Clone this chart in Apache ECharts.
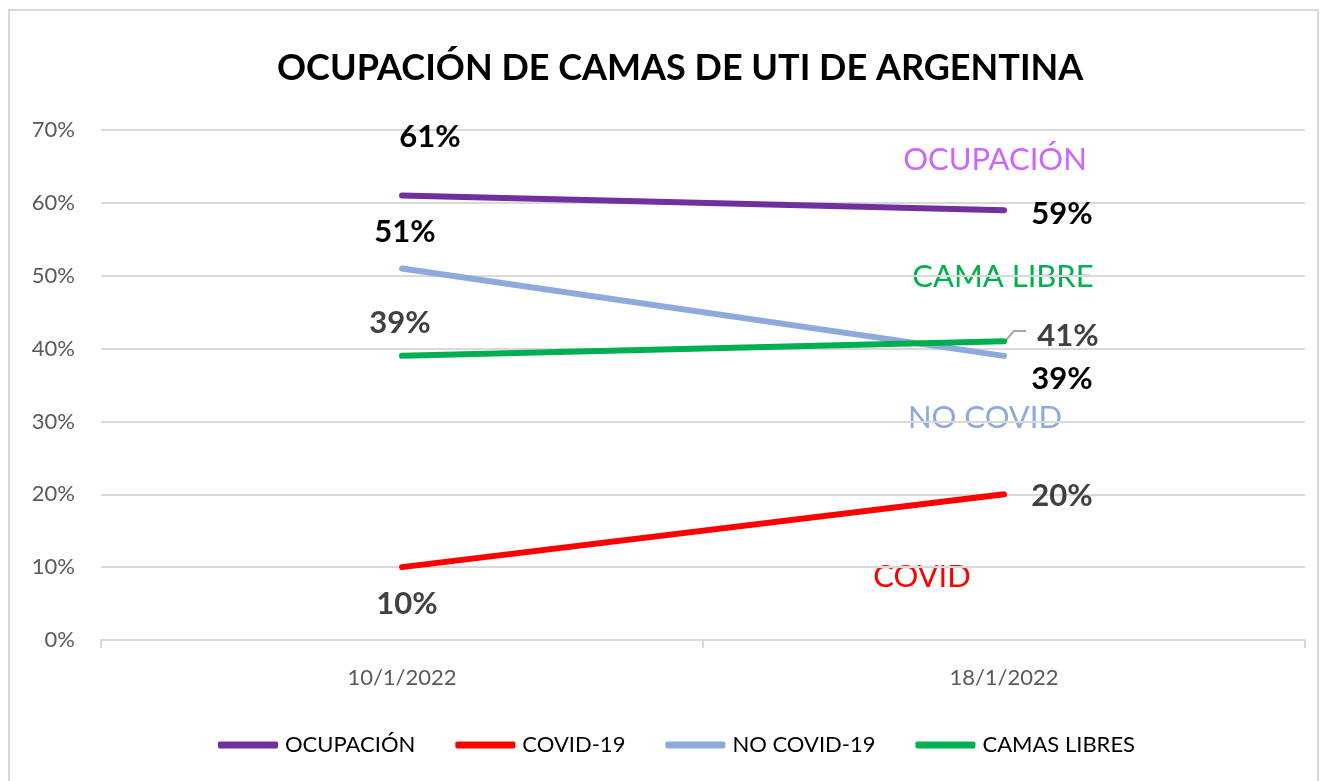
<!DOCTYPE html>
<html>
<head>
<meta charset="utf-8">
<script src="https://cdn.jsdelivr.net/npm/echarts@6/dist/echarts.min.js"></script>
<style>
  html, body { margin: 0; padding: 0; background: #fff; }
  #chart { width: 1327px; height: 781px; }
</style>
</head>
<body>
<div id="chart"></div>
<script>
const fechas = ['10/1/2022', '18/1/2022'];
const ocupacion = [61, 59];
const covid = [10, 20];
const noCovid = [51, 39];
const camasLibres = [39, 41];
const nombres = ['OCUPACIÓN', 'COVID-19', 'NO COVID-19', 'CAMAS LIBRES'];
const colores = ['#7030A0', '#FF0000', '#8EA9DB', '#00B050'];

const fuente = 'Lato, "Open Sans", sans-serif';

// label placement per point: [offset, color]
function puntos(valores, estilos) {
    return valores.map((v, i) => ({
        value: v,
        label: {
            show: true,
            position: 'inside',
            offset: estilos[i][0],
            color: estilos[i][1],
            fontSize: 31,
            fontWeight: 'bold',
            fontFamily: fuente,
            formatter: '{c}%'
        }
    }));
}

function serie(nombre, color, datos) {
    return {
        name: nombre,
        type: 'line',
        data: datos,
        symbol: 'circle',
        symbolSize: 1,
        showSymbol: true,
        itemStyle: { color: color },
        lineStyle: { color: color, width: 6, cap: 'round' },
        emphasis: { disabled: true },
        z: 3
    };
}

const chart = echarts.init(document.getElementById('chart'));

chart.setOption({
    animation: false,
    backgroundColor: '#fff',
    title: {
        text: 'OCUPACIÓN DE CAMAS DE UTI DE ARGENTINA',
        left: 272,
        top: 45,
        textStyle: { fontFamily: fuente, fontWeight: 'bold', fontSize: 36, color: '#000' }
    },
    legend: {
        left: 213,
        top: 729,
        icon: 'roundRect',
        itemWidth: 60,
        itemHeight: 7,
        itemGap: 40,
        data: nombres,
        textStyle: { fontFamily: fuente, fontSize: 22, color: '#000', padding: [0, 0, 0, 2] }
    },
    grid: { left: 101, right: 22, top: 130, bottom: 141 },
    xAxis: {
        type: 'category',
        data: fechas,
        boundaryGap: true,
        axisLine: { lineStyle: { color: '#D9D9D9', width: 2 } },
        axisTick: { show: true, length: 8, lineStyle: { color: '#D9D9D9', width: 2 } },
        axisLabel: { fontFamily: fuente, fontSize: 22, color: '#595959', margin: 27 }
    },
    yAxis: {
        type: 'value',
        min: 0,
        max: 70,
        interval: 10,
        axisLine: { show: false },
        axisTick: { show: false },
        splitLine: { lineStyle: { color: '#D9D9D9', width: 2 } },
        axisLabel: { fontFamily: fuente, fontSize: 22, color: '#595959', margin: 26, formatter: '{value}%' }
    },
    series: [
        serie(nombres[0], colores[0], puntos(ocupacion, [[[28, -59], '#000'], [[58, 4], '#000']])),
        serie(nombres[1], colores[1], puntos(covid, [[[5, 37], '#404040'], [[58, 2], '#404040']])),
        serie(nombres[2], colores[2], puntos(noCovid, [[[3, -36], '#000'], [[58, 23], '#000']])),
        serie(nombres[3], colores[3], puntos(camasLibres, [[[-2, -33], '#404040'], [[64, -5], '#404040']]))
    ],
    graphic: [
        {
            type: 'rect', silent: true, z: -1,
            shape: { x: 9, y: 10, width: 1309, height: 790 },
            style: { fill: 'none', stroke: '#D9D9D9', lineWidth: 2 }
        },
        {
            type: 'polyline', silent: true,
            shape: { points: [[1006, 340], [1014, 331], [1026, 331]] },
            style: { stroke: '#A6A6A6', lineWidth: 2, fill: 'none' }
        },
        { type: 'text', x: 995, y: 160, style: { text: 'OCUPACIÓN', fill: '#CC66FF', font: '31px ' + fuente, align: 'center', verticalAlign: 'middle' } },
        { type: 'text', x: 1003, y: 277, style: { text: 'CAMA LIBRE', fill: '#00B050', font: '31px ' + fuente, align: 'center', verticalAlign: 'middle' } },
        { type: 'text', x: 985, y: 418, style: { text: 'NO COVID', fill: '#8EA9DB', font: '31px ' + fuente, align: 'center', verticalAlign: 'middle' } },
        { type: 'text', x: 922, y: 577, style: { text: 'COVID', fill: '#FF0000', font: '31px ' + fuente, align: 'center', verticalAlign: 'middle' } }
    ]
});
</script>
</body>
</html>
